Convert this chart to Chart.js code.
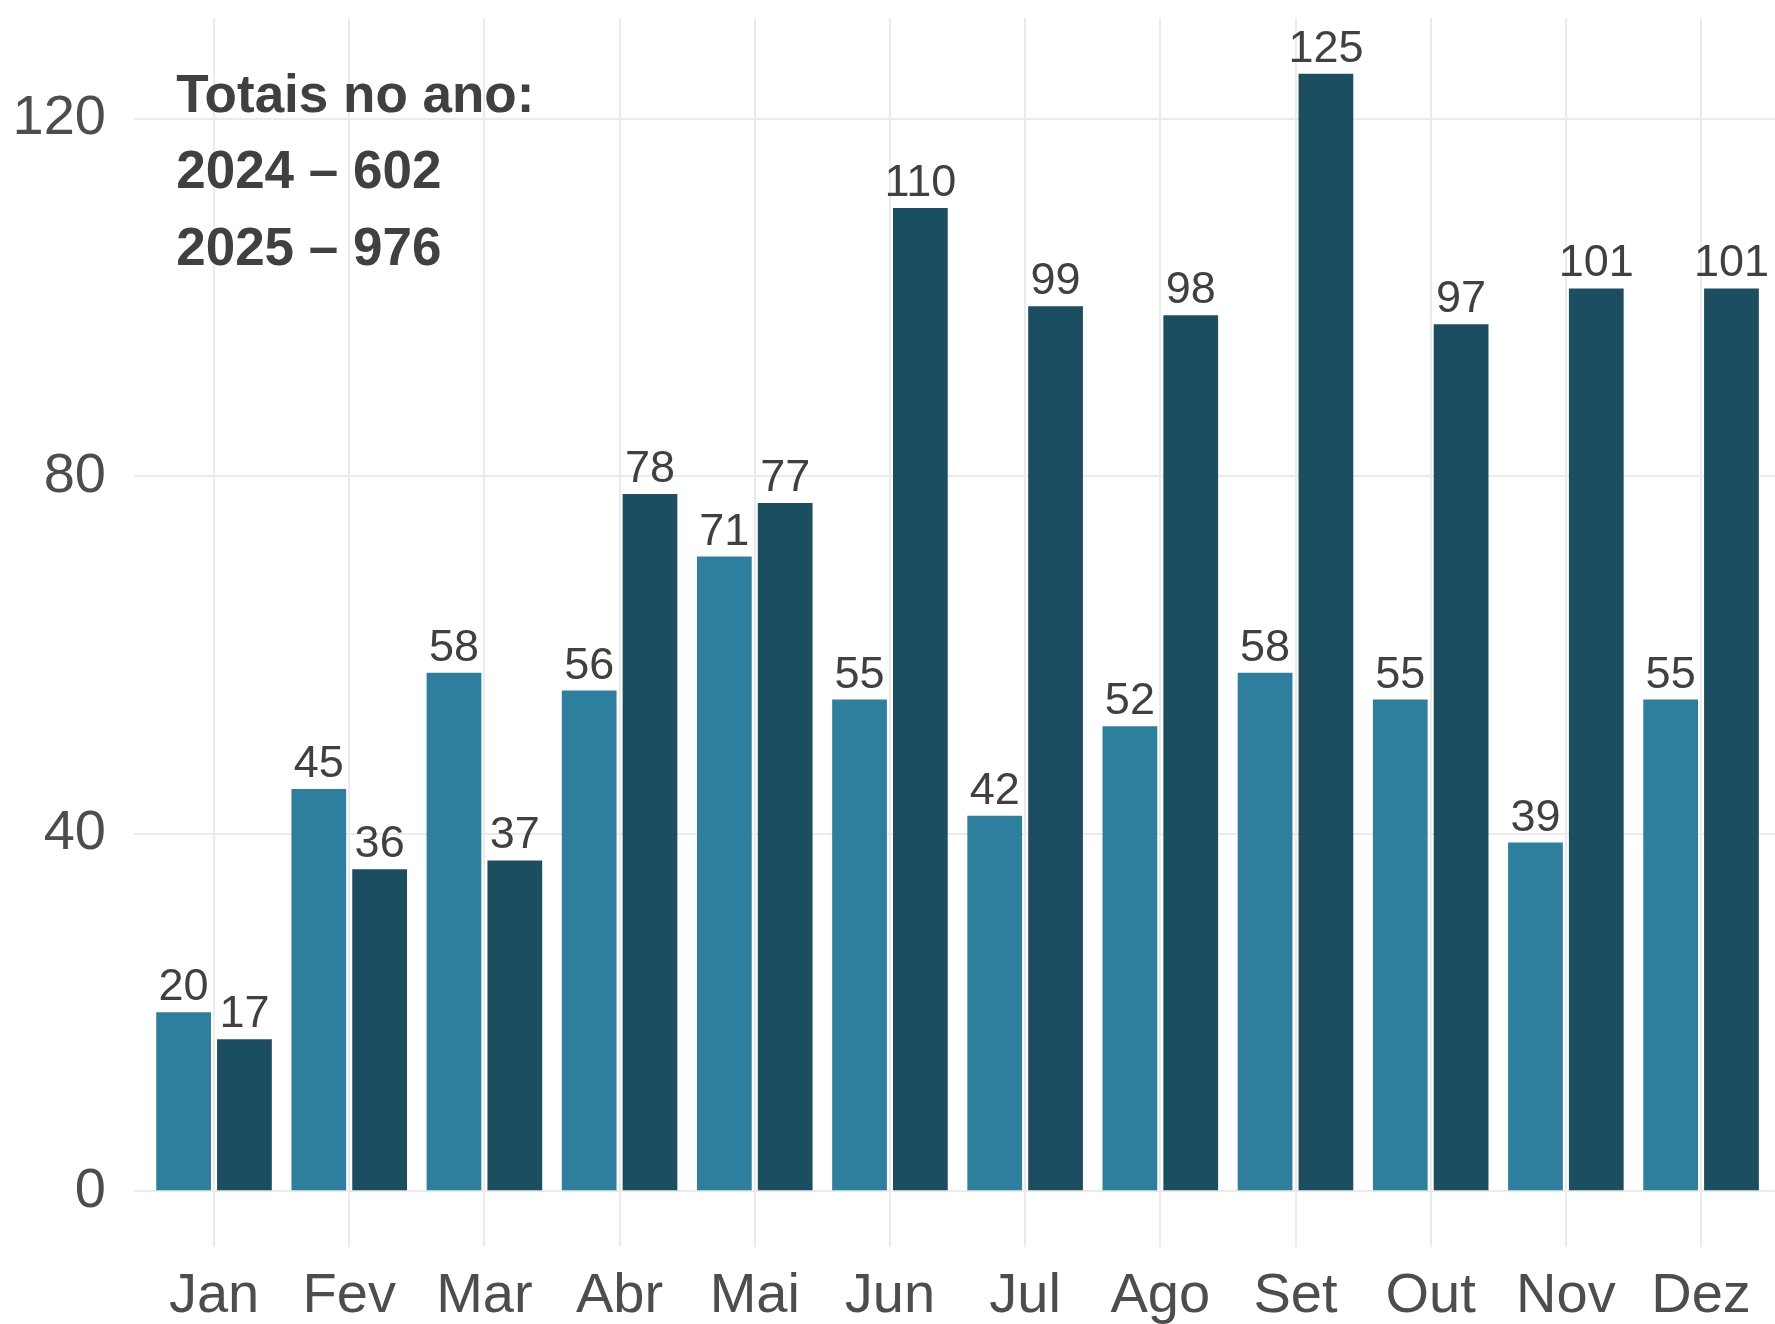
<!DOCTYPE html>
<html>
<head>
<meta charset="utf-8">
<script src="https://cdn.jsdelivr.net/npm/chart.js@4/dist/chart.umd.min.js"></script>
<style>
  html, body { margin: 0; padding: 0; background: #ffffff; overflow: hidden; }
  #wrap { width: 1775px; height: 1324px; }
</style>
</head>
<body>
<div id="wrap"><canvas id="c" width="1775" height="1324"></canvas></div>
<script>
// ---- data ----
const months = ["Jan", "Fev", "Mar", "Abr", "Mai", "Jun", "Jul", "Ago", "Set", "Out", "Nov", "Dez"];
const values2024 = [20, 45, 58, 56, 71, 55, 42, 52, 58, 55, 39, 55];
const values2025 = [17, 36, 37, 78, 77, 110, 99, 98, 125, 97, 101, 101];
const yTickValues = [0, 40, 80, 120];
const annotationLines = ["Totais no ano:", "2024 \u2013 602", "2025 \u2013 976"];
const annotationX = -0.28;
const annotationY = [120.7, 112.2, 103.6];

const color2024 = "#2E7F9E";
const color2025 = "#1C4E62";
const gridColor = "#EBEBEB";
const FONT = "'Liberation Sans', Arial, Helvetica, sans-serif";

const toPoints = arr => arr.map((v, i) => ({ x: i, y: v }));

const labelPlugin = {
  id: "valueLabels",
  afterDatasetsDraw(chart) {
    const ctx = chart.ctx;
    ctx.save();
    ctx.font = "45px " + FONT;
    ctx.fillStyle = "#404040";
    ctx.textAlign = "center";
    ctx.textBaseline = "alphabetic";
    chart.data.datasets.forEach((ds, di) => {
      const meta = chart.getDatasetMeta(di);
      meta.data.forEach((el, i) => {
        ctx.fillText(String(ds.data[i].y), el.x, el.y - 12);
      });
    });
    ctx.restore();
  },
  afterDraw(chart) {
    const ctx = chart.ctx;
    const xs = chart.scales.x, ys = chart.scales.y;
    ctx.save();
    ctx.font = "bold 53px " + FONT;
    ctx.fillStyle = "#404040";
    ctx.textAlign = "left";
    ctx.textBaseline = "alphabetic";
    annotationLines.forEach((t, i) => {
      ctx.fillText(t, xs.getPixelForValue(annotationX), ys.getPixelForValue(annotationY[i]));
    });
    ctx.restore();
  }
};

new Chart(document.getElementById("c"), {
  type: "bar",
  data: {
    datasets: [
      { label: "2024", data: toPoints(values2024), backgroundColor: color2024, borderWidth: 0 },
      { label: "2025", data: toPoints(values2025), backgroundColor: color2025, borderWidth: 0 }
    ]
  },
  options: {
    responsive: false,
    devicePixelRatio: 1,
    animation: false,
    layout: { padding: { top: 18, left: 0, right: 0, bottom: 0 } },
    datasets: { bar: { categoryPercentage: 0.9, barPercentage: 0.9 } },
    plugins: { legend: { display: false }, tooltip: { enabled: false } },
    scales: {
      x: {
        type: "linear",
        offset: false,
        min: -0.592,
        max: 11.547,
        afterBuildTicks: s => { s.ticks = months.map((m, i) => ({ value: i })); },
        afterFit: s => { s.height = 77; s.paddingLeft = 0; s.paddingRight = 0; },
        ticks: {
          autoSkip: false,
          maxRotation: 0,
          padding: 16,
          color: "#4D4D4D",
          font: { family: FONT, size: 56 },
          callback: (v, i) => months[i]
        },
        grid: { offset: false, color: gridColor, lineWidth: 2, drawTicks: false },
        border: { display: false }
      },
      y: {
        min: -6.25,
        max: 131.25,
        afterBuildTicks: s => { s.ticks = yTickValues.map(v => ({ value: v })); },
        afterFit: s => { s.width = 134; s.paddingTop = 0; s.paddingBottom = 0; },
        ticks: {
          padding: 28,
          color: "#4D4D4D",
          font: { family: FONT, size: 56 },
          callback: v => String(v)
        },
        grid: { color: gridColor, lineWidth: 2, drawTicks: false },
        border: { display: false }
      }
    }
  },
  plugins: [labelPlugin]
});
</script>
</body>
</html>
